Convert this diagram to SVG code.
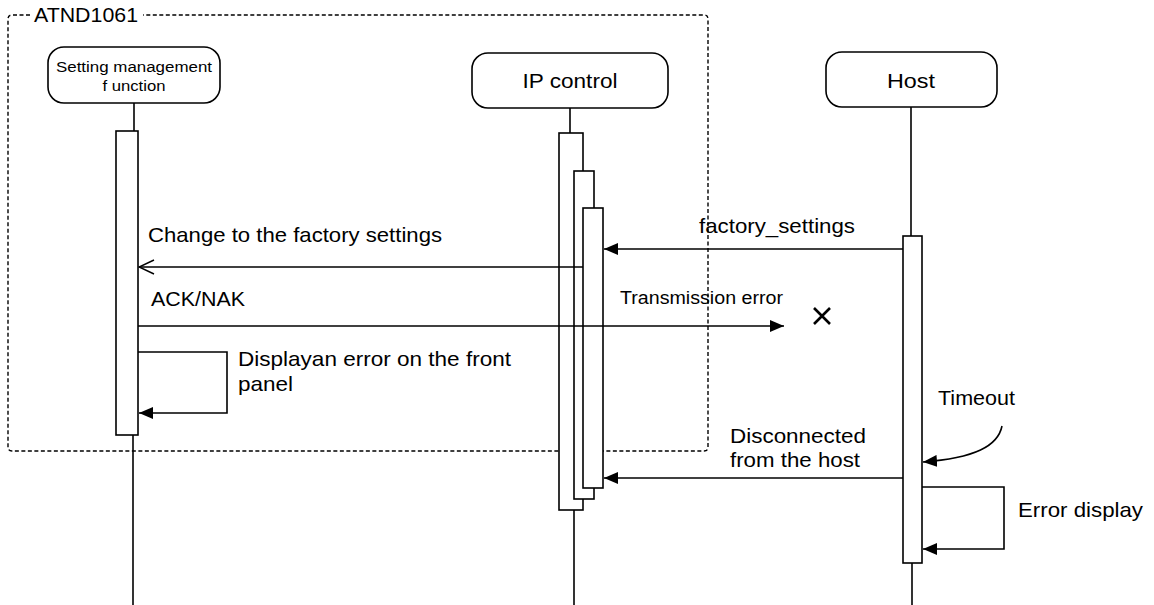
<svg xmlns="http://www.w3.org/2000/svg" width="1154" height="605" viewBox="0 0 1154 605">
  <style>
    text { font-family: "Liberation Sans", Arial, sans-serif; fill: #000; }
    .t { font-size: 21px; }
    .s { font-size: 17.5px; }
    .b { font-size: 15.5px; }
    .actor { fill: #fff; stroke: #000; stroke-width: 1.6; }
    .act { fill: #fff; stroke: #000; stroke-width: 1.6; }
    .life { stroke: #000; stroke-width: 1.6; fill: none; }
    .msg { stroke: #000; stroke-width: 1.6; fill: none; }
    .frame { fill: none; stroke: #000; stroke-width: 1.4; stroke-dasharray: 4 2.5; }
  </style>
  <defs>
    <marker id="fill" viewBox="0 0 14 12" refX="14" refY="6" markerWidth="14" markerHeight="12" markerUnits="userSpaceOnUse" orient="auto">
      <path d="M0,0 L14,6 L0,12 z" fill="#000"/>
    </marker>
    <marker id="open" viewBox="0 0 17 16" refX="16" refY="8" markerWidth="17" markerHeight="16" markerUnits="userSpaceOnUse" orient="auto">
      <path d="M1,1 L16,8 L1,15" fill="none" stroke="#000" stroke-width="1.5"/>
    </marker>
  </defs>

  <rect width="1154" height="605" fill="#fff"/>

  <g id="frame-atnd1061">
    <path class="frame" d="M30 15 L12 15 Q8 15 8 19 L8 447 Q8 451 12 451 L704 451 Q708 451 708 447 L708 19 Q708 15 704 15 L143 15"/>
    <text class="t" x="34" y="22" textLength="104" lengthAdjust="spacingAndGlyphs">ATND1061</text>
  </g>

  <g id="lifelines">
    <line class="life" x1="134" y1="103" x2="134" y2="131"/>
    <line class="life" x1="133" y1="435" x2="133" y2="605"/>
    <line class="life" x1="570" y1="108" x2="570" y2="133"/>
    <line class="life" x1="574" y1="510" x2="574" y2="605"/>
    <line class="life" x1="911" y1="107" x2="911" y2="236"/>
    <line class="life" x1="912" y1="563" x2="912" y2="605"/>
  </g>

  <g id="node-setting-management">
    <rect class="actor" x="48" y="47" width="172" height="56" rx="16"/>
    <text class="b" x="134" y="72" text-anchor="middle" textLength="156" lengthAdjust="spacingAndGlyphs">Setting management</text>
    <text class="b" x="134" y="91" text-anchor="middle" textLength="63" lengthAdjust="spacingAndGlyphs">f unction</text>
    <rect class="act" x="116" y="131" width="22" height="304"/>
  </g>

  <g id="node-ip-control">
    <rect class="actor" x="472" y="53" width="196" height="55" rx="16"/>
    <text class="t" x="570" y="88" text-anchor="middle" textLength="95" lengthAdjust="spacingAndGlyphs">IP control</text>
    <rect class="act" x="559" y="133" width="24" height="377"/>
    <rect class="act" x="574" y="171" width="20" height="328"/>
    <rect class="act" x="583" y="208" width="20" height="280"/>
  </g>

  <g id="node-host">
    <rect class="actor" x="826" y="52" width="171" height="55" rx="16"/>
    <text class="t" x="911" y="88" text-anchor="middle" textLength="48" lengthAdjust="spacingAndGlyphs">Host</text>
    <rect class="act" x="903" y="236" width="19" height="327"/>
  </g>

  <g id="connectors">
    <line class="msg" x1="903" y1="249" x2="604" y2="249" marker-end="url(#fill)"/>
    <text class="t" x="699" y="233" textLength="156" lengthAdjust="spacingAndGlyphs">factory_settings</text>

    <line class="msg" x1="583" y1="267" x2="139" y2="267" marker-end="url(#open)"/>
    <text class="t" x="148" y="242" textLength="294" lengthAdjust="spacingAndGlyphs">Change to the factory settings</text>

    <line class="msg" x1="138" y1="326" x2="784" y2="326" marker-end="url(#fill)"/>
    <text class="t" x="151" y="306" textLength="94" lengthAdjust="spacingAndGlyphs">ACK/NAK</text>
    <text class="s" x="620" y="304" textLength="163" lengthAdjust="spacingAndGlyphs">Transmission error</text>
    <path d="M814 308 L830 324 M830 308 L814 324" stroke="#000" stroke-width="2.6" fill="none"/>

    <polyline class="msg" points="138,352 227,352 227,413 139,413" marker-end="url(#fill)"/>
    <text class="t" x="238" y="366" textLength="273" lengthAdjust="spacingAndGlyphs">Displayan error on the front</text>
    <text class="t" x="238" y="391" textLength="55" lengthAdjust="spacingAndGlyphs">panel</text>

    <line class="msg" x1="903" y1="478" x2="604" y2="478" marker-end="url(#fill)"/>
    <text class="t" x="730" y="443" textLength="136" lengthAdjust="spacingAndGlyphs">Disconnected</text>
    <text class="t" x="730" y="467" textLength="130" lengthAdjust="spacingAndGlyphs">from the host</text>

    <text class="t" x="938" y="405" textLength="77" lengthAdjust="spacingAndGlyphs">Timeout</text>
    <path class="msg" d="M1002 426 C998 446 975 458 923 462" marker-end="url(#fill)"/>

    <polyline class="msg" points="922,487 1004,487 1004,549 923,549" marker-end="url(#fill)"/>
    <text class="t" x="1018" y="517" textLength="125" lengthAdjust="spacingAndGlyphs">Error display</text>
  </g>
</svg>
